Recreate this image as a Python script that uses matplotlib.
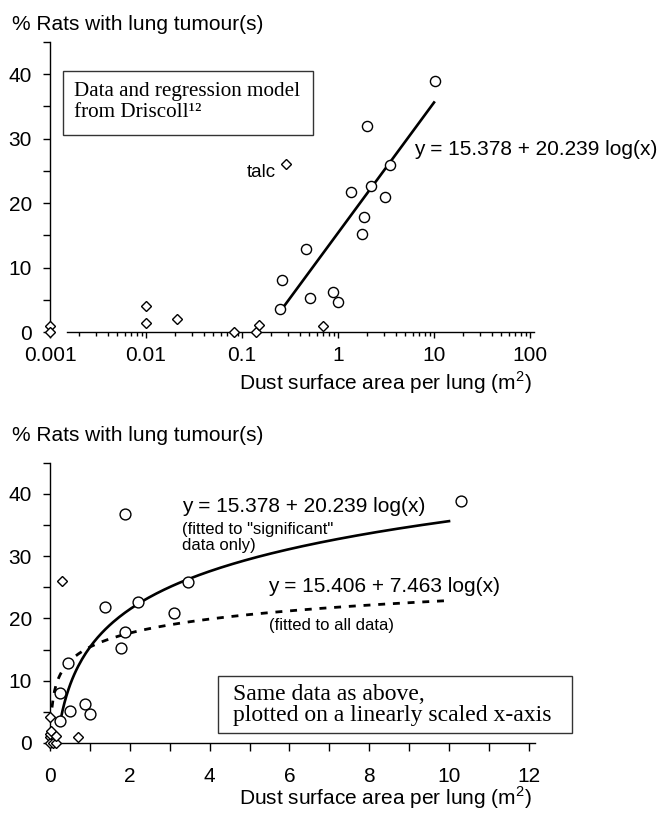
import numpy as np
import matplotlib
matplotlib.use("Agg")
import matplotlib.pyplot as plt
from matplotlib import patches
from matplotlib.ticker import FixedLocator, NullFormatter

plt.rcParams['font.family'] = ['Liberation Sans', 'DejaVu Sans']
plt.rcParams['mathtext.fontset'] = 'custom'
plt.rcParams['mathtext.rm'] = 'Liberation Sans'

# data (top panel, log x)
circle_x = [0.25, 0.26, 0.46, 0.51, 0.88, 1.0, 1.38, 1.77, 1.88, 2.0, 2.2, 3.1, 3.45, 10.3]
circle_y = [3.5, 8.0, 12.9, 5.2, 6.2, 4.7, 21.8, 15.2, 17.9, 31.9, 22.7, 20.9, 25.9, 38.9]
diamond_x = [0.001, 0.001, 0.01, 0.01, 0.021, 0.083, 0.14, 0.15, 0.29, 0.7]
diamond_y = [1.0, 0.0, 4.1, 1.45, 2.0, 0.0, 0.0, 1.1, 26.0, 0.9]
# bottom panel as drawn (one circle sits higher there than in the top panel)
circle_x_lin = [0.25, 0.26, 0.46, 0.51, 0.88, 1.0, 1.38, 1.77, 1.88, 1.88, 2.2, 3.1, 3.45, 10.3]
circle_y_lin = [3.5, 8.0, 12.9, 5.2, 6.2, 4.7, 21.8, 15.2, 17.9, 36.8, 22.7, 20.9, 25.9, 38.9]

# regression models
sig_a, sig_b = 15.378, 20.239
all_a, all_b = 15.406, 7.463
sig_range = (0.265, 10.0)
all_range = (0.05, 10.0)

ylabel = "% Rats with lung tumour(s)"
xlabel = r"Dust surface area per lung (m$^{\mathrm{2}}$)"

fig = plt.figure(figsize=(6.58, 8.13), dpi=100)
W, H = 658, 813
FS = 15


def style_axes(ax):
    for s in ['top', 'right']:
        ax.spines[s].set_visible(False)
    for s in ['left', 'bottom']:
        ax.spines[s].set_linewidth(1.0)
    ax.set_ylim(0, 45)
    ax.yaxis.set_major_locator(FixedLocator([0, 10, 20, 30, 40]))
    ax.yaxis.set_minor_locator(FixedLocator([5, 15, 25, 35, 45]))
    ax.tick_params(axis='y', which='both', direction='out', length=5, width=1,
                   labelsize=FS, pad=8)


def plot_points(ax, cx, cy, ms):
    ax.plot(diamond_x, diamond_y, 'D', ms=4.6, mfc='white', mec='black', mew=1.0,
            clip_on=False, zorder=4)
    ax.plot(cx, cy, 'o', ms=ms, mfc='white', mec='black', mew=1.0,
            clip_on=False, zorder=4)


# ---------- top: log x ----------
ax1 = fig.add_axes([50 / W, 1 - 332 / H, 484 / W, 290 / H])
style_axes(ax1)
ax1.set_xscale('log')
ax1.set_xlim(0.001, 110)
ax1.spines['bottom'].set_bounds(0.0015, 110)
ax1.xaxis.set_major_locator(FixedLocator([0.001, 0.01, 0.1, 1, 10, 100]))
ax1.set_xticklabels(['0.001', '0.01', '0.1', '1', '10', '100'])
minors = [m * 10.0 ** e for e in range(-3, 2) for m in range(2, 10)]
ax1.xaxis.set_minor_locator(FixedLocator(minors))
ax1.xaxis.set_minor_formatter(NullFormatter())
ax1.tick_params(axis='x', which='major', direction='out', length=4, width=1,
                labelsize=FS, pad=6)
ax1.tick_params(axis='x', which='minor', direction='out', length=3, width=1)

xs = np.geomspace(*sig_range, 50)
ax1.plot(xs, sig_a + sig_b * np.log10(xs), color='black', lw=1.9, zorder=3)
plot_points(ax1, circle_x, circle_y, 7.3)

ax1.text(0.228, 24.7, "talc", fontsize=13.5, ha='right', va='center')
ax1.text(6.2, 28.3, "y = 15.378 + 20.239 log(x)", fontsize=FS, ha='left', va='center')

ax1.add_patch(patches.Rectangle((13 / 484, 197 / 290), 250 / 484, 64 / 290,
                                transform=ax1.transAxes, fill=False,
                                edgecolor='#333333', lw=1.0))
ax1.text(24 / 484, (332 - 102) / 290, "Data and regression model\nfrom Driscoll\u00b9\u00b2",
         transform=ax1.transAxes, family='Liberation Serif', fontsize=15.2,
         ha='left', va='center', linespacing=1.1)
fig.text(12 / W, 1 - 24 / H, ylabel, fontsize=FS, ha='left', va='center')
fig.text(385 / W, 1 - 383 / H, xlabel, fontsize=FS, ha='center', va='center')

# ---------- bottom: linear x ----------
ax2 = fig.add_axes([50 / W, 1 - 743 / H, 484.8 / W, 280.3 / H])
style_axes(ax2)
ax2.set_xlim(0, 12.15)
ax2.xaxis.set_major_locator(FixedLocator([0, 2, 4, 6, 8, 10, 12]))
ax2.xaxis.set_minor_locator(FixedLocator([1, 3, 5, 7, 9, 11]))
ax2.tick_params(axis='x', which='both', direction='out', length=6, width=1,
                labelsize=FS, pad=11)

xs = np.linspace(*sig_range, 200)
ax2.plot(xs, sig_a + sig_b * np.log10(xs), color='black', lw=1.9, zorder=3)
xs = np.linspace(*all_range, 300)
ax2.plot(xs, all_a + all_b * np.log10(xs), color='black', lw=2.0,
         linestyle=(0, (2.5, 2.8)), zorder=3)
plot_points(ax2, circle_x_lin, circle_y_lin, 7.8)

ax2.text(3.30, 37.9, "y = 15.378 + 20.239 log(x)", fontsize=FS, ha='left', va='center')
ax2.text(3.30, 33.0, "(fitted to \"significant\"\ndata only)", fontsize=12,
         ha='left', va='center', linespacing=1.05)
ax2.text(5.47, 25.2, "y = 15.406 + 7.463 log(x)", fontsize=FS, ha='left', va='center')
ax2.text(5.5, 18.9, "(fitted to all data)", fontsize=12, ha='left', va='center')

ax2.add_patch(patches.Rectangle(((218 - 50) / 39.9, (743 - 733) / 6.23),
                                (572 - 218) / 39.9, (733 - 676) / 6.23,
                                fill=False, edgecolor='#333333', lw=1.0,
                                clip_on=False, zorder=2))
ax2.text((233 - 50) / 39.9, (743 - 705) / 6.23,
         "Same data as above,\nplotted on a linearly scaled x-axis",
         family='Liberation Serif', fontsize=17, ha='left', va='center',
         linespacing=1.05)

fig.text(12 / W, 1 - 435 / H, ylabel, fontsize=FS, ha='left', va='center')
fig.text(385 / W, 1 - 798 / H, xlabel, fontsize=FS, ha='center', va='center')

fig.savefig("out.png", dpi=100)
